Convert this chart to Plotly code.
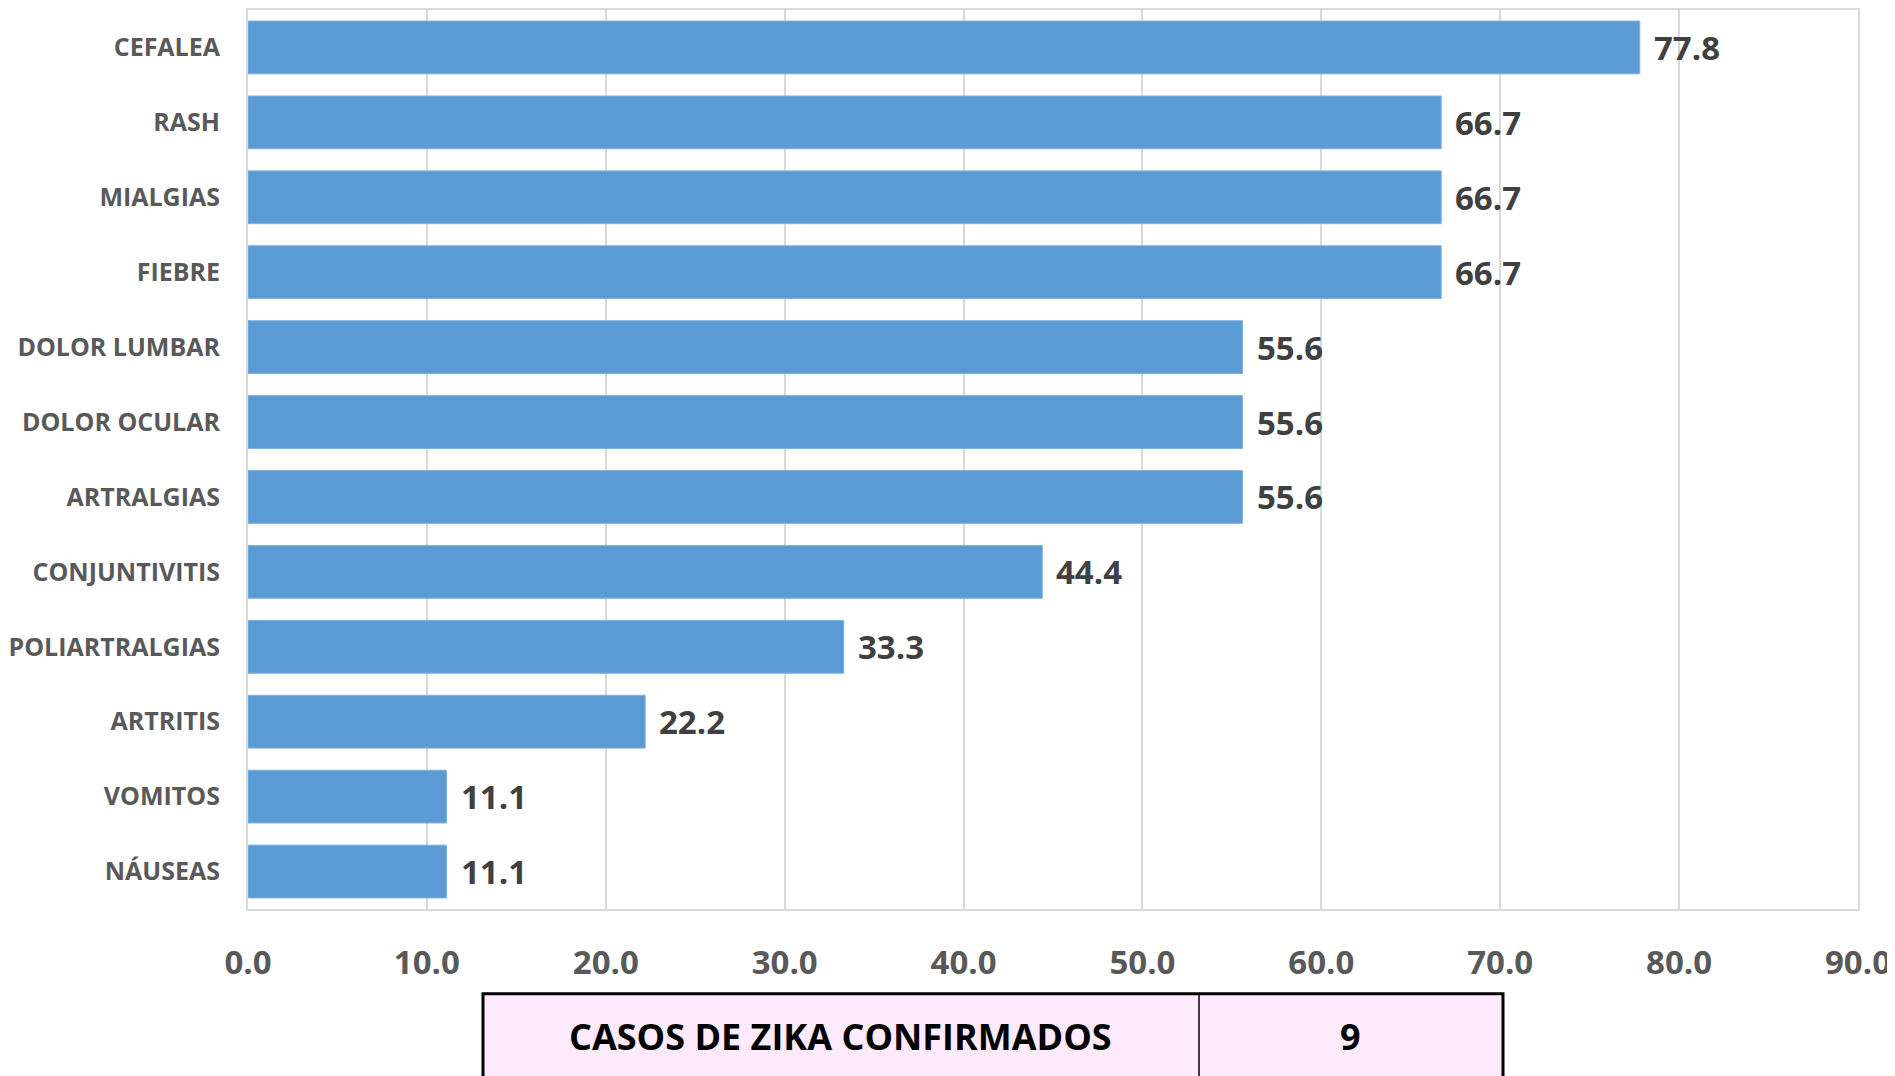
import plotly.graph_objects as go

categories = ["CEFALEA", "RASH", "MIALGIAS", "FIEBRE", "DOLOR LUMBAR", "DOLOR OCULAR",
              "ARTRALGIAS", "CONJUNTIVITIS", "POLIARTRALGIAS", "ARTRITIS", "VOMITOS", "NÁUSEAS"]
values = [77.8, 66.7, 66.7, 66.7, 55.6, 55.6, 55.6, 44.4, 33.3, 22.2, 11.1, 11.1]
x_ticks = [0, 10, 20, 30, 40, 50, 60, 70, 80, 90]
table_label = "CASOS DE ZIKA CONFIRMADOS"
table_value = "9"

# page offset (body margin) is 8px; positions below are in window pixels
W, H = 1895, 1076
L, R, T, B = 240, 45, 0, 175
PW, PH = W - L - R, H - T - B
OFF = 8

def px(p):
    return (p - OFF - L) / PW

def py(p):
    return (H - B - (p - OFF)) / PH

FONT = "Open Sans"
cats_rev = categories[::-1]
vals_rev = values[::-1]

fig = go.Figure()
fig.add_trace(go.Bar(
    y=cats_rev, x=vals_rev, orientation="h",
    marker=dict(color="#5B9BD5", line=dict(color="#7FB2E0", width=1)),
    width=0.705, hoverinfo="skip",
))

annotations = []
for c, v in zip(cats_rev, vals_rev):
    annotations.append(dict(
        x=v, y=c, xref="x", yref="y", text=f"<b>{v:.1f}</b>", showarrow=False,
        xanchor="left", yanchor="middle", xshift=12, yshift=0,
        font=dict(family=FONT, size=33, color="#404040"),
    ))

annotations.append(dict(
    x=px(840), y=py(1037), xref="paper", yref="paper", text=f"<b>{table_label}</b>",
    showarrow=False, xanchor="center", yanchor="middle",
    font=dict(family=FONT, size=36, color="#000000"),
))
annotations.append(dict(
    x=px(1350), y=py(1037), xref="paper", yref="paper", text=f"<b>{table_value}</b>",
    showarrow=False, xanchor="center", yanchor="middle",
    font=dict(family=FONT, size=36, color="#000000"),
))

shapes = [
    dict(type="rect", xref="paper", yref="paper", x0=px(483), x1=px(1503),
         y0=py(1095), y1=py(994), fillcolor="#FDEBFD",
         line=dict(color="#000000", width=3), layer="above"),
    dict(type="line", xref="paper", yref="paper", x0=px(1199), x1=px(1199),
         y0=py(1095), y1=py(994), line=dict(color="#000000", width=1.5)),
]

fig.update_layout(
    width=W, height=H,
    margin=dict(l=L, r=R, t=T, b=B),
    paper_bgcolor="white", plot_bgcolor="white",
    showlegend=False,
    annotations=annotations,
    shapes=shapes,
    xaxis=dict(
        range=[0, 90], tickvals=x_ticks, ticktext=[f"<b>{t:.1f}</b>" for t in x_ticks],
        showgrid=True, gridcolor="#D9D9D9", gridwidth=2,
        showline=True, linecolor="#D9D9D9", linewidth=2, mirror=True,
        zeroline=False, ticks="", ticklabelstandoff=23,
        tickfont=dict(family=FONT, size=33, color="#595959"),
        fixedrange=True,
    ),
    yaxis=dict(
        range=[-0.5, 11.5], showgrid=False,
        showline=True, linecolor="#D9D9D9", linewidth=2, mirror=True,
        ticks="", ticklabelstandoff=21,
        ticktext=[f"<b>{c}</b>" for c in cats_rev], tickvals=cats_rev,
        tickfont=dict(family=FONT, size=25, color="#595959"),
        fixedrange=True,
    ),
)

fig.write_html("out.html")
